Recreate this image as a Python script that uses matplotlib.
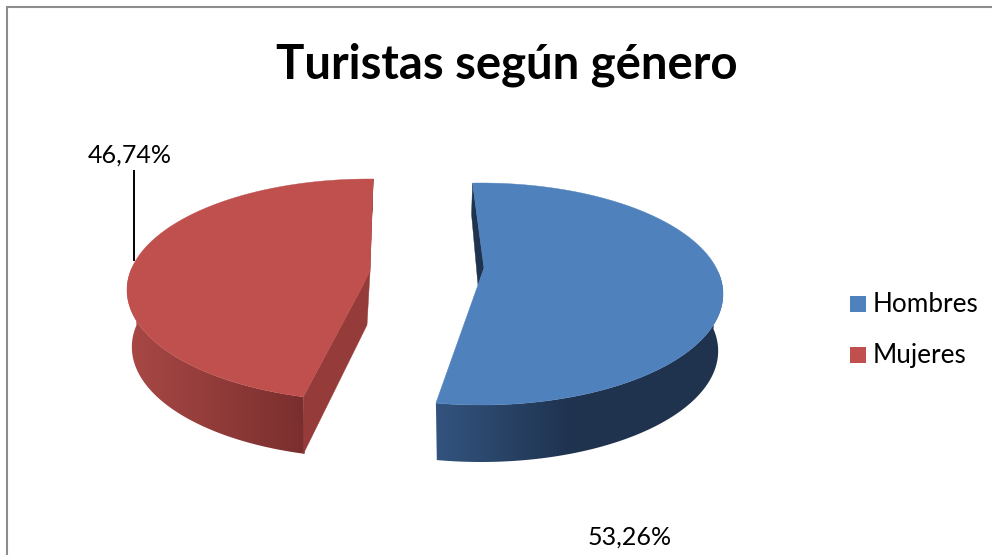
import numpy as np
import matplotlib
matplotlib.use("Agg")
import matplotlib.pyplot as plt
from matplotlib.patches import Polygon, Rectangle
from matplotlib.colors import LinearSegmentedColormap

categories = ["Hombres", "Mujeres"]
shares = [53.26, 46.74]
share_labels = ["53,26%", "46,74%"]
title = "Turistas según género"

# ellipse size and thickness of the fake 3d pie (pixels)
RX = 242
RY = 111
DEPTH = 57
BOTTOM_SCALE = 0.98  # lower rim looks a bit narrower

plt.rcParams['font.family'] = ['Lato', 'DejaVu Sans']

fig = plt.figure(figsize=(9.92, 5.55), dpi=100)
ax = fig.add_axes([0, 0, 1, 1])
ax.axis('off')


def rim(cx, cy, deg):
    t = np.radians(deg)
    return cx + RX * np.sin(t), cy - RY * np.cos(t)


def draw_slice(cx, cy, apex, a0, a1, top, side0, side1, x0, x1, cut):
    angles = np.linspace(a0, a1, 300)
    xs, ys = rim(cx, cy, angles)

    # side wall: one outline filled with a horizontal gradient
    low = np.cos(np.radians(angles)) < 0.2
    wx = xs[low]
    wy = ys[low]
    wall = list(zip(wx, wy)) + list(zip((cx + (wx - cx) * BOTTOM_SCALE)[::-1], (wy + DEPTH)[::-1]))
    cmap = LinearSegmentedColormap.from_list("wall", [side0, side1])
    grad = np.linspace(0, 1, 256).reshape(1, -1)
    img = ax.imshow(grad, cmap=cmap, extent=(x0, x1, 555, 0), aspect='auto', zorder=1)
    left = ax.imshow(np.zeros((1, 1)), cmap=cmap, vmin=0, vmax=1, extent=(0, x0, 555, 0), aspect='auto', zorder=1)
    right = ax.imshow(np.ones((1, 1)), cmap=cmap, vmin=0, vmax=1, extent=(x1, 992, 555, 0), aspect='auto', zorder=1)
    clip = Polygon(wall, transform=ax.transData, fc='none', ec='none')
    ax.add_patch(clip)
    for im in (img, left, right):
        im.set_clip_path(clip)

    # the far end of the slice is the one at the back of the ellipse
    if np.cos(np.radians(a0)) > 0:
        far = (xs[0], ys[0])
        near = (xs[-1], ys[-1])
    else:
        far = (xs[-1], ys[-1])
        near = (xs[0], ys[0])

    # thin cut face on the far edge
    ax.add_patch(Polygon([far, apex, (apex[0] - 6, apex[1] + DEPTH * 0.3),
                          (far[0] - 1, far[1] + DEPTH * 0.55)],
                         fc=side1, ec=side1, lw=0.3, zorder=2))
    # near cut face, only where it faces the viewer
    if cut is not None:
        ax.add_patch(Polygon([apex, (apex[0] - 3, apex[1] + DEPTH * 0.93),
                              (near[0], near[1] + DEPTH), near],
                             fc=cut, ec=cut, lw=0.3, zorder=2))
    # top surface
    ax.add_patch(Polygon([apex] + list(zip(xs, ys)), fc=top, ec=top, lw=0.3, zorder=3))


# sweep comes from the shares, start angles are tuned to the tilted projection
blue_start = -2
blue_end = blue_start + shares[0] * 3.6 + 1
red_start = blue_end + 5
red_end = red_start + shares[1] * 3.6 - 3

draw_slice(481, 294, (484, 268), blue_start, blue_end, "#4f81bd",
           "#33547f", "#1f334f", 435, 570, None)
draw_slice(369, 290, (370, 272), red_start, red_end, "#c0504d",
           "#a84845", "#7a2f2e", 130, 302, "#953c3a")

# chart frame: right edge falls outside the picture
ax.plot([7, 7, 995], [560, 7, 7], color="#8c8c8c", lw=1.5, solid_joinstyle='miter', zorder=4)

ax.text(506.5, 65, title, fontsize=34, fontweight='bold', ha='center', va='center', color='black')

# data labels and leader line
ax.plot([134, 134], [171, 260], color='black', lw=1.4, zorder=4)
ax.text(130, 155, share_labels[1], fontsize=18, ha='center', va='center', color='black')
ax.text(630, 537, share_labels[0], fontsize=18, ha='center', va='center', color='black')

# legend
ax.add_patch(Rectangle((850, 296), 16, 16, fc="#4f81bd", ec='none'))
ax.add_patch(Rectangle((850, 347), 16, 16, fc="#c0504d", ec='none'))
ax.text(873, 304, categories[0], fontsize=18.8, ha='left', va='center', color='black')
ax.text(873, 355, categories[1], fontsize=18.8, ha='left', va='center', color='black')

ax.set_xlim(0, 992)
ax.set_ylim(555, 0)

fig.savefig("out.png", dpi=100)
